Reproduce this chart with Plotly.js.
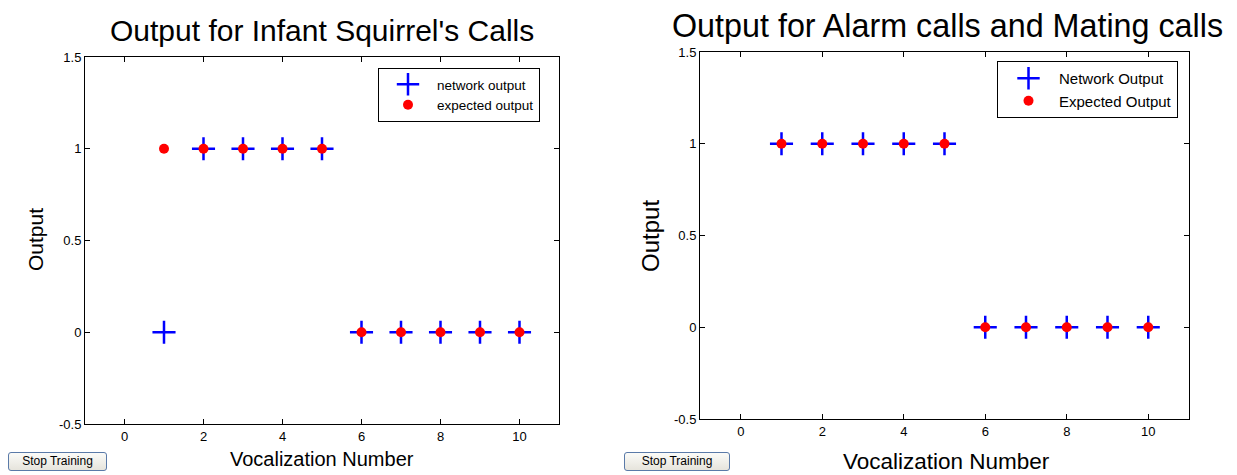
<!DOCTYPE html>
<html>
<head>
<meta charset="utf-8">
<script src="https://cdn.plot.ly/plotly-3.0.1.min.js"></script>
<style>
html,body{margin:0;padding:0;background:#fff;}
#chart{width:1237px;height:475px;position:relative;}
.btn{position:absolute;height:17px;border:1px solid #5a7aa8;border-radius:3px;background:linear-gradient(#fbfbf8,#e6e4dc);font-family:"Liberation Sans",Arial,sans-serif;font-size:12px;line-height:17px;text-align:center;color:#000;box-sizing:content-box;}
</style>
</head>
<body>
<div id="chart"></div>
<div class="btn" style="left:8px;top:452px;width:97px;">Stop Training</div>
<div class="btn" style="left:624px;top:452px;width:104px;">Stop Training</div>
<script>
const vocalizations = [1,2,3,4,5,6,7,8,9,10];
const infantNetwork = [0,1,1,1,1,0,0,0,0,0];
const infantExpected = [1,1,1,1,1,0,0,0,0,0];
const alarmNetwork = [1,1,1,1,1,0,0,0,0,0];
const alarmExpected = [1,1,1,1,1,0,0,0,0,0];
const xTicks = [0,2,4,6,8,10];
const yTicks = [-0.5,0,0.5,1,1.5];

const W = 1237, H = 475;
const px = v => v / W, py = v => 1 - v / H;
const font = "Liberation Sans, Arial, sans-serif";

const crossMarker = {symbol:'cross-thin', size:16.5, color:'#0000ff', line:{color:'#0000ff', width:2.5}};
const dotMarker = {symbol:'circle', size:10, color:'#ff0000'};

const traces = [
  {x:vocalizations, y:infantNetwork, type:'scatter', mode:'markers', name:'network output', marker:crossMarker, xaxis:'x', yaxis:'y', legend:'legend'},
  {x:vocalizations, y:infantExpected, type:'scatter', mode:'markers', name:'expected output', marker:dotMarker, xaxis:'x', yaxis:'y', legend:'legend'},
  {x:vocalizations, y:alarmNetwork, type:'scatter', mode:'markers', name:'Network Output', marker:crossMarker, xaxis:'x2', yaxis:'y2', legend:'legend2'},
  {x:vocalizations, y:alarmExpected, type:'scatter', mode:'markers', name:'Expected Output', marker:dotMarker, xaxis:'x2', yaxis:'y2', legend:'legend2'}
];

const axisCommon = {
  showgrid:false, zeroline:false, showline:true, linecolor:'#000', linewidth:1,
  mirror:'ticks', ticks:'inside', ticklen:5, tickcolor:'#000', tickwidth:1,
  tickfont:{family:font, size:13, color:'#000'}
};

const layout = {
  width:W, height:H, margin:{l:0,r:0,t:0,b:0},
  paper_bgcolor:'#fff', plot_bgcolor:'#fff',
  font:{family:font, color:'#000'},
  xaxis:Object.assign({}, axisCommon, {domain:[px(85), px(559)], range:[-1,11], tickvals:xTicks, anchor:'y'}),
  yaxis:Object.assign({}, axisCommon, {domain:[py(424), py(57)], range:[-0.5,1.5], tickvals:yTicks, ticktext:['-0.5','0','0.5','1','1.5'], anchor:'x'}),
  xaxis2:Object.assign({}, axisCommon, {domain:[px(700), px(1189)], range:[-1,11], tickvals:xTicks, anchor:'y2'}),
  yaxis2:Object.assign({}, axisCommon, {domain:[py(419), py(52)], range:[-0.5,1.5], tickvals:yTicks, ticktext:['-0.5','0','0.5','1','1.5'], anchor:'x2'}),
  legend:{x:px(378), y:py(68), xanchor:'left', yanchor:'top', bordercolor:'#000', borderwidth:1, bgcolor:'#fff', font:{family:font, size:13.5, color:'#000'}, tracegroupgap:0, itemwidth:48},
  legend2:{x:px(997), y:py(61), xanchor:'left', yanchor:'top', bordercolor:'#000', borderwidth:1, bgcolor:'#fff', font:{family:font, size:15, color:'#000'}, tracegroupgap:0, itemwidth:51},
  showlegend:true,
  annotations:[
    {text:"Output for Infant Squirrel's Calls", xref:'paper', yref:'paper', x:px(322), y:py(31), xanchor:'center', yanchor:'middle', showarrow:false, font:{family:font, size:30, color:'#000'}},
    {text:"Output for Alarm calls and Mating calls", xref:'paper', yref:'paper', x:px(947), y:py(26), xanchor:'center', yanchor:'middle', showarrow:false, font:{family:font, size:32.3, color:'#000'}},
    {text:"Vocalization Number", xref:'paper', yref:'paper', x:px(322), y:py(459), xanchor:'center', yanchor:'middle', showarrow:false, font:{family:font, size:20, color:'#000'}},
    {text:"Vocalization Number", xref:'paper', yref:'paper', x:px(946), y:py(461), xanchor:'center', yanchor:'middle', showarrow:false, font:{family:font, size:22.5, color:'#000'}},
    {text:"Output", xref:'paper', yref:'paper', x:px(35), y:py(240), xanchor:'center', yanchor:'middle', textangle:-90, showarrow:false, font:{family:font, size:21, color:'#000'}},
    {text:"Output", xref:'paper', yref:'paper', x:px(650), y:py(236), xanchor:'center', yanchor:'middle', textangle:-90, showarrow:false, font:{family:font, size:24, color:'#000'}}
  ]
};

Plotly.newPlot('chart', traces, layout, {displayModeBar:false, staticPlot:true});
</script>
</body>
</html>
